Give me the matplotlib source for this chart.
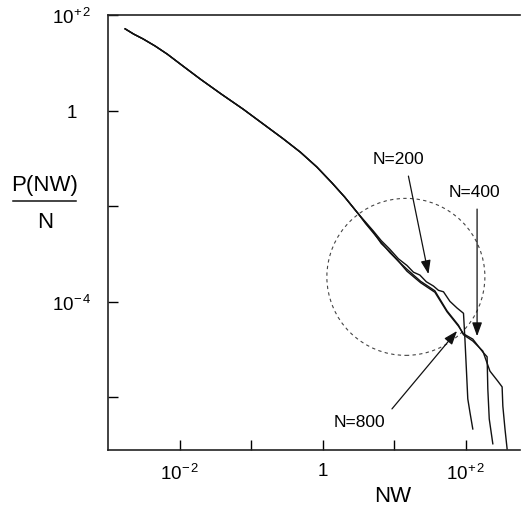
import matplotlib.pyplot as plt
import numpy as np
from matplotlib.patches import Ellipse
from matplotlib.lines import Line2D

plt.rcParams['font.family'] = ['Liberation Sans', 'DejaVu Sans']
plt.rcParams['mathtext.fontset'] = 'custom'
plt.rcParams['mathtext.rm'] = 'Liberation Sans'
plt.rcParams['mathtext.it'] = 'Liberation Sans:italic'
plt.rcParams['mathtext.bf'] = 'Liberation Sans:bold'

# log10 values (common part of the three curves)
base_lognw = [-2.76, -2.64, -2.51, -2.34, -2.17, -1.95, -1.71, -1.42, -1.11, -0.83,
              -0.55, -0.31, -0.08, 0.13, 0.31, 0.50]
base_logp = [1.71, 1.60, 1.50, 1.35, 1.18, 0.93, 0.66, 0.35, 0.03, -0.28,
             -0.59, -0.87, -1.18, -1.51, -1.81, -2.16]

n200_lognw = [0.60, 0.71, 0.82, 0.94, 1.06, 1.18, 1.27, 1.36, 1.45, 1.55, 1.62,
              1.69, 1.78, 1.88, 1.97, 1.99, 2.01, 2.03, 2.06, 2.10]
n200_logp = [-2.33, -2.52, -2.72, -2.90, -3.10, -3.24, -3.38, -3.44, -3.58, -3.67,
             -3.76, -3.79, -3.99, -4.13, -4.24, -4.78, -5.40, -6.03, -6.31, -6.66]

n400_lognw = [0.60, 0.71, 0.82, 0.94, 1.06, 1.18, 1.37, 1.57, 1.74, 1.90, 1.97,
              2.10, 2.24, 2.30, 2.31, 2.33, 2.38]
n400_logp = [-2.36, -2.56, -2.76, -2.97, -3.15, -3.36, -3.60, -3.80, -4.21, -4.51,
             -4.67, -4.78, -5.05, -5.15, -5.82, -6.45, -6.97]

n800_lognw = [0.60, 0.71, 0.82, 0.94, 1.06, 1.18, 1.37, 1.57, 1.74, 1.90, 1.97,
              2.10, 2.24, 2.34, 2.45, 2.51, 2.52, 2.55, 2.58]
n800_logp = [-2.35, -2.54, -2.78, -2.95, -3.15, -3.32, -3.57, -3.77, -4.19, -4.49,
             -4.69, -4.82, -5.03, -5.45, -5.66, -5.78, -6.18, -6.66, -7.08]

series = [(n200_lognw, n200_logp), (n400_lognw, n400_logp), (n800_lognw, n800_logp)]

fig = plt.figure(figsize=(5.22, 5.10), dpi=100)
ax = fig.add_axes([108/522, 1-451/510, 412/522, 435/510])

for lx, ly in series:
    x = 10.0**np.array(base_lognw + lx)
    y = 10.0**np.array(base_logp + ly)
    ax.plot(x, y, color='#111111', lw=1.0)

ax.set_xscale('log')
ax.set_yscale('log')
ax.set_xlim(1e-3, 10**2.76)
ax.set_ylim(10**-7.1, 1e2)

ax.spines['right'].set_visible(False)
for s in ['left', 'bottom', 'top']:
    ax.spines[s].set_linewidth(1.2)
    ax.spines[s].set_color('#222222')

ax.set_xticks([1e-2, 1e-1, 1, 1e1, 1e2],
              [r'$\mathregular{10^{-\,2}}$', '', '1', '', r'$\mathregular{10^{+\,2}}$'])
ax.set_yticks([1e2, 1, 1e-2, 1e-4, 1e-6],
              [r'$\mathregular{10^{+\,2}}$', '1', '', r'$\mathregular{10^{-\,4}}$', ''])
ax.minorticks_off()
ax.tick_params(axis='both', direction='in', length=7, width=1, labelsize=13.5)
ax.tick_params(axis='x', pad=9)
ax.tick_params(axis='y', pad=26)
for lab in ax.get_yticklabels():
    lab.set_horizontalalignment('center')

# dashed circle
circ = Ellipse((0.723, 0.398), 158/412, 157/435, transform=ax.transAxes,
               fill=False, ls=(0, (3, 3)), lw=0.8, color='#444444')
ax.add_patch(circ)

arrow = dict(arrowstyle='-|>,head_length=0.55,head_width=0.2', lw=0.9,
             color='#111111', mutation_scale=15, shrinkA=0, shrinkB=0)
ax.annotate('', xy=(10**1.48, 10**-3.42), xytext=(10**1.20, 10**-1.37), arrowprops=arrow)
ax.annotate('', xy=(10**2.16, 10**-4.72), xytext=(10**2.16, 10**-2.06), arrowprops=arrow)
ax.annotate('', xy=(10**1.88, 10**-4.61), xytext=(10**0.97, 10**-6.24), arrowprops=arrow)

ax.text(10**1.06, 10**-1.01, 'N=200', ha='center', va='center', fontsize=12.5)
ax.text(10**2.13, 10**-1.70, 'N=400', ha='center', va='center', fontsize=12.5)
ax.text(10**0.52, 10**-6.51, 'N=800', ha='center', va='center', fontsize=12.5)

# axis labels
fig.text(393/522, 1-497/510, 'NW', ha='center', va='center', fontsize=16)
fig.text(45/522, 1-186/510, 'P(NW)', ha='center', va='center', fontsize=16)
fig.add_artist(Line2D([13/522, 76/522], [1-202/510, 1-202/510], color='#111111', lw=1.1))
fig.text(45/522, 1-222/510, 'N', ha='center', va='center', fontsize=16)

fig.savefig('out.png', dpi=100)
